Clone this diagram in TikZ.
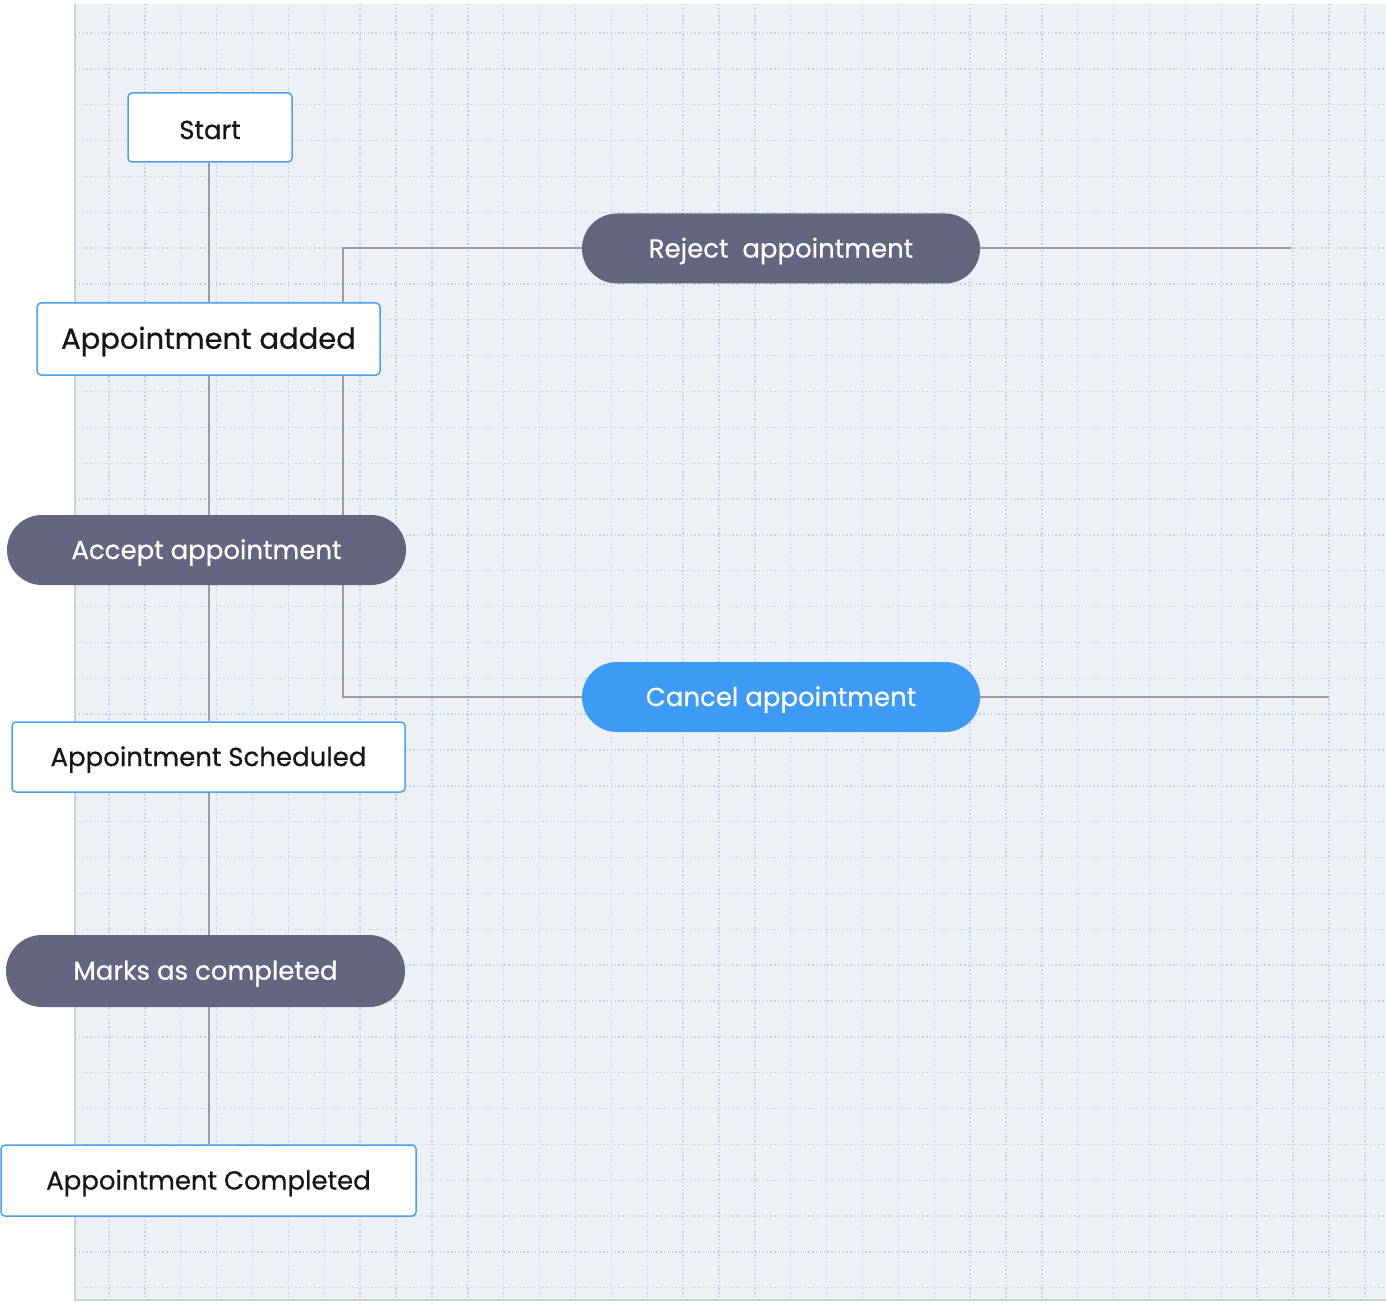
\documentclass[tikz,border=0pt]{standalone}
\usepackage{fontspec}
\setmainfont{Poppins}[FakeBold=0.6]
\pgfdeclarelayer{bg}
\pgfdeclarelayer{edges}
\pgfsetlayers{bg,edges,main}
\definecolor{paper}{HTML}{EDF1F6}
\definecolor{griddot}{HTML}{BBD0EA}
\definecolor{frame}{HTML}{CFCFD2}
\definecolor{wire}{HTML}{9C9CA0}
\definecolor{boxline}{HTML}{4CA1F0}
\definecolor{slate}{HTML}{646580}
\definecolor{skyblue}{HTML}{3D9AF5}
\definecolor{ink}{HTML}{161616}
\newcommand{\lbl}[1]{\raisebox{-2.5pt}[\height][\depth]{#1}}
\tikzset{
  statebox/.style={draw=boxline, line width=1.5pt, fill=white, rounded corners=4pt,
    inner sep=0pt, text=ink, font=\fontsize{26}{30}\selectfont},
  actionpill/.style={fill=slate, rounded corners=35pt, inner sep=0pt, text=white,
    minimum width=399pt, minimum height=70pt, font=\fontsize{26}{30}\selectfont},
  wireline/.style={draw=wire, line width=2pt},
}
\begin{document}
\begin{tikzpicture}[x=1pt,y=-1pt]
\useasboundingbox (0,0) rectangle (1386,1305);
\begin{pgfonlayer}{bg}
  \fill[white] (0,0) rectangle (1386,1305);
  \fill[paper] (75,4) rectangle (1386,1300);
  \foreach \k in {0,...,35} {
    \draw[griddot, line width=1.4pt, dash pattern=on 1.4pt off 2.4pt]
      ({109+35.88*\k},4) -- ({109+35.88*\k},1300);
  }
  \foreach \k in {0,...,35} {
    \draw[griddot, line width=1.4pt, dash pattern=on 1.4pt off 2.4pt]
      (75,{33+35.85*\k}) -- (1386,{33+35.85*\k});
  }
  \draw[frame, line width=1.5pt] (75,4) -- (75,1300) -- (1386,1300);
\end{pgfonlayer}

\node[statebox, minimum width=164pt, minimum height=69pt] (start) at (210,127.5) {\lbl{Start}};
\node[statebox, minimum width=343pt, minimum height=72pt, font=\fontsize{29}{34}\selectfont] (added) at (208.5,339) {\lbl{Appointment added}};
\node[actionpill] (accept) at (206.5,550) {\lbl{Accept appointment}};
\node[statebox, minimum width=393pt, minimum height=70pt] (sched) at (208.5,757) {\lbl{Appointment Scheduled}};
\node[actionpill, minimum height=72pt, rounded corners=36pt] (marks) at (205.5,971) {\lbl{Marks as completed}};
\node[statebox, minimum width=415pt, minimum height=71pt] (done) at (208.5,1180.5) {\lbl{Appointment Completed}};
\node[actionpill, minimum width=398pt] (reject) at (781,248.5) {\lbl{Reject\ \ appointment}};
\node[actionpill, minimum width=398pt, fill=skyblue] (cancel) at (781,697) {\lbl{Cancel appointment}};

\coordinate (bend) at (343,697);
\coordinate (rend) at (1291,248.5);
\coordinate (cend) at (1329,697);

\begin{pgfonlayer}{edges}
  \draw[wireline] (start.south -| added.north) -- (added.north);
  \draw[wireline] (added.south) -- (added.south |- accept.north);
  \draw[wireline] (added.south |- accept.south) -- (sched.north);
  \draw[wireline] (sched.south) -- (sched.south |- marks.north);
  \draw[wireline] (sched.south |- marks.south) -- (done.north);
  \draw[wireline] (reject.west) -| (bend) -- (cancel.west);
  \draw[wireline] (reject.east) -- (rend);
  \draw[wireline] (cancel.east) -- (cend);
\end{pgfonlayer}
\end{tikzpicture}
\end{document}
